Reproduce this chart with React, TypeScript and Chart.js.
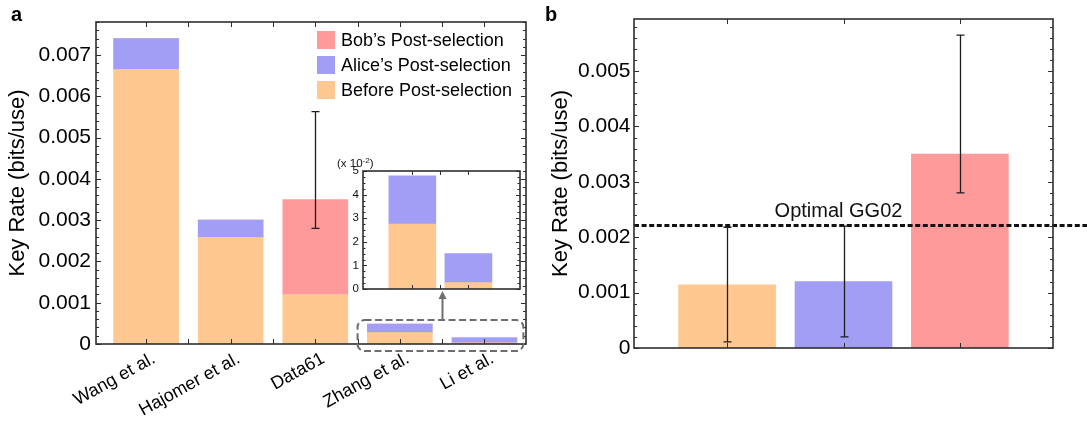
import React, { useEffect, useRef } from 'react';
import { Chart, registerables } from 'chart.js';

Chart.register(...registerables);

const FONT = '"Liberation Sans", Arial, Helvetica, sans-serif';
const ORANGE = '#FFC891';
const BLUE = '#A29EF6';
const RED = '#FF9A9A';
const AXIS = '#2e2e2e';

// ---------- Panel a ----------
const studies = ['Wang et al.', 'Hajomer et al.', 'Data61', 'Zhang et al.', 'Li et al.'];
const beforeA = [0.00665, 0.00258, 0.0012, 0.000275, 0.000027];
const aliceA = [0.00075, 0.00042, 0, 0.000205, 0.000123];
const bobA = [0, 0, 0.0023, 0, 0];
const errLowA = [null, null, 0.0028, null, null];
const errHighA = [null, null, 0.00563, null, null];
const yTicksA = [0, 0.001, 0.002, 0.003, 0.004, 0.005, 0.006, 0.007];

// ---------- Inset (x 10^-2) ----------
const insetStudies = ['Zhang et al.', 'Li et al.'];
const insetBefore = [2.75, 0.27];
const insetAlice = [2.05, 1.23];
const insetTicks = [0, 1, 2, 3, 4, 5];

// ---------- Panel b ----------
const schemesB = ['Before Post-selection', 'Alice’s Post-selection', 'Bob’s Post-selection'];
const ratesB = [0.00114, 0.0012, 0.0035];
const errLowB = [0.00011, 0.0002, 0.0028];
const errHighB = [0.00218, 0.0022, 0.00565];
const optimalGG02 = 0.00221;
const yTicksB = [0, 0.001, 0.002, 0.003, 0.004, 0.005];

const legendLabels = ['Bob’s Post-selection', 'Alice’s Post-selection', 'Before Post-selection'];
const legendColors = [RED, BLUE, ORANGE];

function range(start: number, end: number, step: number) {
  const out: number[] = [];
  for (let v = start; v <= end + step * 1e-6; v += step) out.push(Math.round(v / step) * step);
  return out;
}

function framePlugin(id: string, cfg: any) {
  return {
    id,
    afterDatasetsDraw(chart: any) {
      const { ctx, chartArea: a, scales } = chart;
      const xs = scales.x;
      const ys = scales.y;
      ctx.save();
      ctx.strokeStyle = AXIS;
      ctx.lineWidth = 1;
      const drawX = (vals: number[], len: number) => {
        vals.forEach((v) => {
          const px = Math.round(xs.getPixelForValue(v)) + 0.5;
          ctx.beginPath();
          ctx.moveTo(px, a.bottom);
          ctx.lineTo(px, a.bottom - len);
          ctx.moveTo(px, a.top);
          ctx.lineTo(px, a.top + len);
          ctx.stroke();
        });
      };
      const drawY = (vals: number[], len: number) => {
        vals.forEach((v) => {
          const py = Math.round(ys.getPixelForValue(v)) + 0.5;
          ctx.beginPath();
          ctx.moveTo(a.left, py);
          ctx.lineTo(a.left + len, py);
          ctx.moveTo(a.right, py);
          ctx.lineTo(a.right - len, py);
          ctx.stroke();
        });
      };
      drawX(cfg.xMajor, cfg.majorLen);
      drawY(cfg.yMinor, cfg.minorLen);
      drawY(cfg.yMajor, cfg.majorLen);
      ctx.lineWidth = 1.6;
      ctx.strokeRect(a.left, a.top, a.right - a.left, a.bottom - a.top);
      ctx.restore();
    },
  };
}

function errorPlugin(id: string, lows: (number | null)[], highs: (number | null)[]) {
  return {
    id,
    afterDatasetsDraw(chart: any) {
      const { ctx, scales } = chart;
      ctx.save();
      ctx.strokeStyle = '#1e1e1e';
      ctx.lineWidth = 1.3;
      lows.forEach((lo, i) => {
        const hi = highs[i];
        if (lo == null || hi == null) return;
        const x = Math.round(scales.x.getPixelForValue(i)) + 0.5;
        const y1 = scales.y.getPixelForValue(lo);
        const y2 = scales.y.getPixelForValue(hi);
        ctx.beginPath();
        ctx.moveTo(x, y1);
        ctx.lineTo(x, y2);
        ctx.moveTo(x - 4, y1);
        ctx.lineTo(x + 4, y1);
        ctx.moveTo(x - 4, y2);
        ctx.lineTo(x + 4, y2);
        ctx.stroke();
      });
      ctx.restore();
    },
  };
}

function legendPlugin(id: string, x: number, y: number, size: number, letter: string, lx: number, ly: number) {
  return {
    id,
    afterDraw(chart: any) {
      const { ctx } = chart;
      ctx.save();
      legendLabels.forEach((lab, i) => {
        const cy = y + i * 25;
        ctx.fillStyle = legendColors[i];
        ctx.fillRect(x, cy - 9, 18, 18);
        ctx.fillStyle = '#000';
        ctx.font = `${size}px ${FONT}`;
        ctx.textAlign = 'left';
        ctx.textBaseline = 'middle';
        ctx.fillText(lab, x + 24, cy + 1);
      });
      ctx.font = `bold 20px ${FONT}`;
      ctx.textBaseline = 'alphabetic';
      ctx.fillText(letter, lx, ly);
      ctx.restore();
    },
  };
}

const zoomBoxPlugin = {
  id: 'zoomBox',
  afterDraw(chart: any) {
    const { ctx, chartArea: a, scales } = chart;
    const x1 = scales.x.getPixelForValue(2.5);
    const x2 = scales.x.getPixelForValue(4.46);
    const y1 = scales.y.getPixelForValue(0.00058);
    const y2 = a.bottom + 7;
    const r = 7;
    ctx.save();
    ctx.strokeStyle = '#6e6e6e';
    ctx.lineWidth = 2;
    ctx.setLineDash([7, 3.5]);
    ctx.beginPath();
    ctx.moveTo(x1 + r, y1);
    ctx.lineTo(x2 - r, y1);
    ctx.arcTo(x2, y1, x2, y1 + r, r);
    ctx.lineTo(x2, y2 - r);
    ctx.arcTo(x2, y2, x2 - r, y2, r);
    ctx.lineTo(x1 + r, y2);
    ctx.arcTo(x1, y2, x1, y2 - r, r);
    ctx.lineTo(x1, y1 + r);
    ctx.arcTo(x1, y1, x1 + r, y1, r);
    ctx.closePath();
    ctx.stroke();
    ctx.setLineDash([]);
    const ax = Math.round(scales.x.getPixelForValue(3.5)) + 0.5;
    const tip = 291;
    ctx.beginPath();
    ctx.moveTo(ax, y1);
    ctx.lineTo(ax, tip + 6);
    ctx.stroke();
    ctx.fillStyle = '#6e6e6e';
    ctx.beginPath();
    ctx.moveTo(ax, tip);
    ctx.lineTo(ax - 4, tip + 8);
    ctx.lineTo(ax + 4, tip + 8);
    ctx.closePath();
    ctx.fill();
    ctx.restore();
  },
};

const whiteAreaPlugin = {
  id: 'whiteArea',
  beforeDraw(chart: any) {
    const { ctx, chartArea: a } = chart;
    ctx.save();
    ctx.fillStyle = '#fff';
    ctx.fillRect(a.left, a.top, a.right - a.left, a.bottom - a.top);
    ctx.restore();
  },
  afterDraw(chart: any) {
    const { ctx } = chart;
    ctx.save();
    ctx.fillStyle = '#111';
    ctx.textBaseline = 'alphabetic';
    ctx.textAlign = 'left';
    ctx.font = `11.5px ${FONT}`;
    let x = 7;
    const y = 17;
    ctx.fillText('(x 10', x, y);
    x += ctx.measureText('(x 10').width;
    ctx.font = `8px ${FONT}`;
    ctx.fillText('-2', x, y - 4);
    x += ctx.measureText('-2').width;
    ctx.font = `11.5px ${FONT}`;
    ctx.fillText(')', x, y);
    ctx.restore();
  },
};

const gg02Plugin = {
  id: 'gg02',
  afterDatasetsDraw(chart: any) {
    const { ctx, chartArea: a, scales } = chart;
    const y = scales.y.getPixelForValue(optimalGG02);
    ctx.save();
    ctx.strokeStyle = '#111';
    ctx.lineWidth = 3;
    ctx.setLineDash([5, 2.6]);
    ctx.beginPath();
    ctx.moveTo(a.left, y);
    ctx.lineTo(chart.width, y);
    ctx.stroke();
    ctx.setLineDash([]);
    ctx.fillStyle = '#111';
    ctx.font = `20px ${FONT}`;
    ctx.textAlign = 'center';
    ctx.textBaseline = 'alphabetic';
    ctx.fillText('Optimal GG02', (a.left + a.right) / 2 - 5, y - 9);
    ctx.restore();
  },
};

const fmt3 = (v: any) => (Number(v) === 0 ? '0' : Number(v).toFixed(3));

export default function App() {
  const refA = useRef<HTMLCanvasElement>(null);
  const refB = useRef<HTMLCanvasElement>(null);
  const refC = useRef<HTMLCanvasElement>(null);

  useEffect(() => {
    const charts: Chart[] = [];

    charts.push(
      new Chart(refA.current!, {
        type: 'bar',
        data: {
          datasets: [
            { label: 'Before Post-selection', data: studies.map((_, i) => ({ x: i, y: beforeA[i] })), backgroundColor: ORANGE, barThickness: 65 } as any,
            { label: 'Alice’s Post-selection', data: studies.map((_, i) => ({ x: i, y: aliceA[i] })), backgroundColor: BLUE, barThickness: 65 } as any,
            { label: 'Bob’s Post-selection', data: studies.map((_, i) => ({ x: i, y: bobA[i] })), backgroundColor: RED, barThickness: 65 } as any,
          ],
        },
        options: {
          animation: false,
          responsive: false,
          maintainAspectRatio: false,
          layout: { padding: { left: 0, right: 14, top: 22, bottom: 0 } },
          plugins: { legend: { display: false }, tooltip: { enabled: false } },
          scales: {
            x: {
              type: 'linear',
              offset: false,
              stacked: true,
              min: -0.592,
              max: 4.491,
              grid: { display: false, drawTicks: false, offset: false },
              border: { display: false },
              ticks: {
                stepSize: 1,
                includeBounds: false,
                autoSkip: false,
                minRotation: 29,
                maxRotation: 29,
                padding: 4,
                labelOffset: 8,
                color: '#000',
                font: { family: FONT, size: 18 },
                callback: (v: any) => studies[Math.round(Number(v))] ?? '',
              },
              afterFit: (s: any) => {
                s.height = 80;
              },
            } as any,
            y: {
              stacked: true,
              min: 0,
              max: 0.0078,
              grid: { display: false, drawTicks: false },
              border: { display: false },
              ticks: {
                stepSize: 0.001,
                includeBounds: false,
                padding: 5,
                color: '#000',
                font: { family: FONT, size: 21 },
                callback: fmt3,
              },
              title: { display: true, text: 'Key Rate (bits/use)', color: '#000', font: { family: FONT, size: 22 }, padding: { top: 5, bottom: 0 } },
              afterFit: (s: any) => {
                s.width = 96;
              },
            } as any,
          },
        },
        plugins: [
          errorPlugin('errA', errLowA, errHighA),
          framePlugin('frameA', { xMajor: range(0, 4, 0.5), yMajor: yTicksA, yMinor: range(0, 0.0078, 0.0002), majorLen: 5, minorLen: 3 }),
          zoomBoxPlugin,
          legendPlugin('legA', 317, 40, 18, 'a', 11, 21),
        ],
      })
    );

    charts.push(
      new Chart(refB.current!, {
        type: 'bar',
        data: {
          datasets: [
            {
              label: 'Key rate',
              data: schemesB.map((_, i) => ({ x: i, y: ratesB[i] })),
              backgroundColor: [ORANGE, BLUE, RED],
              barThickness: 97,
            } as any,
          ],
        },
        options: {
          animation: false,
          responsive: false,
          maintainAspectRatio: false,
          layout: { padding: { left: 0, right: 34, top: 19, bottom: 0 } },
          plugins: { legend: { display: false }, tooltip: { enabled: false } },
          scales: {
            x: {
              type: 'linear',
              offset: false,
              min: -0.8,
              max: 2.8,
              grid: { display: false, drawTicks: false, offset: false },
              border: { display: false },
              ticks: { display: false, stepSize: 1 },
              afterFit: (s: any) => {
                s.height = 76;
              },
            } as any,
            y: {
              min: 0,
              max: 0.00594,
              grid: { display: false, drawTicks: false },
              border: { display: false },
              ticks: {
                stepSize: 0.001,
                includeBounds: false,
                padding: 3.5,
                color: '#000',
                font: { family: FONT, size: 21 },
                callback: fmt3,
              },
              title: { display: true, text: 'Key Rate (bits/use)', color: '#000', font: { family: FONT, size: 22 }, padding: { top: 8, bottom: 0 } },
              afterFit: (s: any) => {
                s.width = 94;
              },
            } as any,
          },
        },
        plugins: [
          gg02Plugin,
          errorPlugin('errB', errLowB, errHighB),
          framePlugin('frameB', { xMajor: [0, 1, 2], yMajor: yTicksB, yMinor: range(0, 0.0058, 0.0002), majorLen: 5, minorLen: 3 }),
          legendPlugin('legB', 643, 37, 17.5, 'b', 5, 21),
        ],
      })
    );

    charts.push(
      new Chart(refC.current!, {
        type: 'bar',
        data: {
          datasets: [
            { label: 'Before Post-selection', data: insetStudies.map((_, i) => ({ x: i, y: insetBefore[i] })), backgroundColor: ORANGE, barThickness: 47 } as any,
            { label: 'Alice’s Post-selection', data: insetStudies.map((_, i) => ({ x: i, y: insetAlice[i] })), backgroundColor: BLUE, barThickness: 47 } as any,
          ],
        },
        options: {
          animation: false,
          responsive: false,
          maintainAspectRatio: false,
          layout: { padding: { left: 0, right: 10, top: 21, bottom: 0 } },
          plugins: { legend: { display: false }, tooltip: { enabled: false } },
          scales: {
            x: {
              type: 'linear',
              offset: false,
              stacked: true,
              min: -0.88,
              max: 1.92,
              grid: { display: false, drawTicks: false, offset: false },
              border: { display: false },
              ticks: { display: false, stepSize: 1 },
              afterFit: (s: any) => {
                s.height = 11;
              },
            } as any,
            y: {
              stacked: true,
              min: 0,
              max: 5,
              grid: { display: false, drawTicks: false },
              border: { display: false },
              ticks: {
                stepSize: 1,
                padding: 4,
                color: '#111',
                font: { family: FONT, size: 11.5 },
                callback: (v: any) => (insetTicks.includes(Number(v)) ? String(v) : ''),
              },
              afterFit: (s: any) => {
                s.width = 33;
              },
            } as any,
          },
        },
        plugins: [
          whiteAreaPlugin,
          framePlugin('frameC', { xMajor: [0, 0.5, 1], yMajor: insetTicks, yMinor: range(0, 5, 0.25), majorLen: 4, minorLen: 2.5 }),
        ],
      })
    );

    return () => charts.forEach((c) => c.destroy());
  }, []);

  return (
    <div style={{ position: 'fixed', left: 0, top: 0, width: 1087, height: 424, background: '#fff', overflow: 'hidden' }}>
      <canvas ref={refA} width={540} height={424} style={{ position: 'absolute', left: 0, top: 0, width: 540, height: 424 }} />
      <canvas ref={refB} width={547} height={424} style={{ position: 'absolute', left: 540, top: 0, width: 547, height: 424 }} />
      <canvas ref={refC} width={200} height={150} style={{ position: 'absolute', left: 330, top: 150, width: 200, height: 150 }} />
    </div>
  );
}
